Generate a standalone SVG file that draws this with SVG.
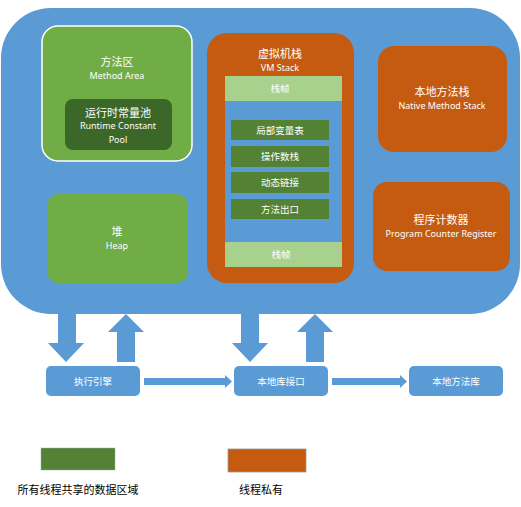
<svg xmlns="http://www.w3.org/2000/svg" width="521" height="507" viewBox="0 0 521 507">
<style>
text{font-family:"Noto Sans","Noto Sans CJK SC",sans-serif;fill:#fff;text-anchor:middle}
.zh{font-size:11px}
.en{font-size:9px}
.sm{font-size:9.5px}
.blue{fill:#5b9bd5}
.orange{fill:#c55a11}
.green{fill:#70ad47}
.dg{fill:#548235}
.lg{fill:#a9d18e}
.lbl{fill:#000;font-size:11px}
</style>
<rect width="521" height="507" fill="#fff"/>
<g id="runtime-area">
<rect class="blue" x="1" y="8" width="519" height="306" rx="50"/>
</g>
<g id="method-area">
<rect class="green" x="42" y="26" width="150" height="135" rx="16" stroke="#fff" stroke-width="1.5"/>
<text class="zh" x="117" y="66">方法区</text>
<text class="en" x="117" y="79">Method Area</text>
</g>
<g id="runtime-constant-pool">
<rect x="65" y="99" width="107" height="51" rx="8" fill="#3b6728"/>
<text class="zh" x="118" y="117">运行时常量池</text>
<text class="en" x="118" y="129">Runtime Constant</text>
<text class="en" x="118" y="143">Pool</text>
</g>
<g id="heap">
<rect class="green" x="47" y="194" width="141" height="89" rx="12"/>
<text class="zh" x="117" y="236">堆</text>
<text class="en" x="117" y="249">Heap</text>
</g>
<g id="vm-stack">
<rect class="orange" x="207" y="33" width="147" height="250" rx="20"/>
<text class="zh" x="280" y="58">虚拟机栈</text>
<text class="en" x="280" y="71">VM Stack</text>
<rect class="blue" x="225" y="76" width="117" height="191"/>
<rect class="lg" x="225" y="76" width="117" height="25"/>
<text class="sm" x="280" y="92">栈帧</text>
<rect class="lg" x="225" y="242" width="117" height="25"/>
<text class="sm" x="281" y="258">栈帧</text>
</g>
<g id="local-vars">
<rect class="dg" x="231" y="120" width="98" height="20"/>
<text class="sm" x="280" y="134">局部变量表</text>
</g>
<g id="operand-stack">
<rect class="dg" x="231" y="146" width="98" height="21"/>
<text class="sm" x="280" y="160">操作数栈</text>
</g>
<g id="dynamic-linking">
<rect class="dg" x="231" y="172" width="98" height="21"/>
<text class="sm" x="280" y="186">动态链接</text>
</g>
<g id="method-exit">
<rect class="dg" x="231" y="199" width="98" height="20"/>
<text class="sm" x="280" y="213">方法出口</text>
</g>
<g id="native-method-stack">
<rect class="orange" x="378" y="46" width="129" height="106" rx="16"/>
<text class="zh" x="442" y="96">本地方法栈</text>
<text class="en" x="442" y="109">Native Method Stack</text>
</g>
<g id="pc-register">
<rect class="orange" x="373" y="182" width="137" height="89" rx="14"/>
<text class="zh" x="441" y="224">程序计数器</text>
<text class="en" x="441" y="237">Program Counter Register</text>
</g>
<g id="execution-engine">
<rect class="blue" x="46" y="366" width="94" height="30" rx="5"/>
<text class="sm" x="93" y="385">执行引擎</text>
</g>
<g id="native-interface">
<rect class="blue" x="234" y="366" width="94" height="30" rx="5"/>
<text class="sm" x="281" y="385">本地库接口</text>
</g>
<g id="native-library">
<rect class="blue" x="409" y="366" width="94" height="30" rx="5"/>
<text class="sm" x="456" y="385">本地方法库</text>
</g>
<g id="connectors" class="blue">
<polygon points="58,313 76,313 76,343 84,343 66,362 48,343 58,343"/>
<polygon points="117,362 135,362 135,332 144,332 126,314 108,332 117,332"/>
<polygon points="241,313 259,313 259,343 268,343 250,362 232,343 241,343"/>
<polygon points="306,362 324,362 324,332 333,332 315,314 297,332 306,332"/>
<polygon points="144,378 225,378 225,375 232,381.5 225,388 225,385 144,385"/>
<polygon points="332,378 400,378 400,375 407,381.5 400,388 400,385 332,385"/>
</g>
<g id="legend-shared">
<rect x="41" y="448" width="74" height="22" fill="#548235" stroke="#9aa" stroke-width="0.5"/>
<text class="lbl" x="78" y="494">所有线程共享的数据区域</text>
</g>
<g id="legend-private">
<rect x="228" y="449" width="78" height="23" fill="#c55a11" stroke="#999" stroke-width="0.8"/>
<text class="lbl" x="261" y="494">线程私有</text>
</g>
</svg>
